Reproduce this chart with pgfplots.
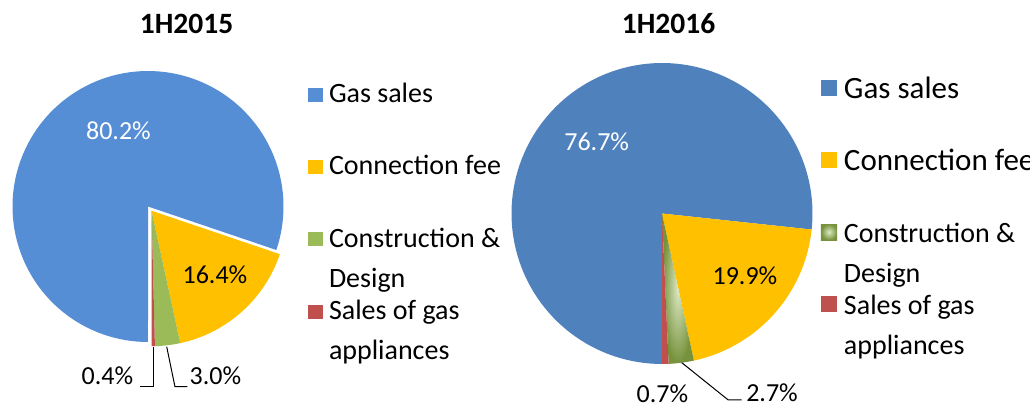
\documentclass[border=0pt]{standalone}
\usepackage{pgfplots}
\usepackage{pgfplotstable}
\pgfplotsset{compat=1.18}
\usepackage{fontspec}
\setmainfont{Carlito}

\definecolor{blueA}{HTML}{558ED5}
\definecolor{blueB}{HTML}{4F81BD}
\definecolor{yel}{HTML}{FFC000}
\definecolor{grnA}{HTML}{9BBB59}
\definecolor{grnDark}{HTML}{76923C}
\definecolor{grnLight}{HTML}{DDE9C4}
\definecolor{pieRed}{HTML}{C0504D}

% 1H2015 revenue split (%), dx/dy = explosion offset (radius units)
\pgfplotstableread{
name value dx dy
Gas 80.2 0 0
Conn 16.4 0.026 -0.031
Cons 3.0 0.026 -0.031
Sales 0.4 0.026 -0.031
}\pieA
% 1H2016 revenue split (%)
\pgfplotstableread{
name value dx dy
Gas 76.7 0 0
Conn 19.9 0 0
Cons 2.7 0 0
Sales 0.7 0 0
}\pieB

\pgfplotsset{
  pieA0/.style={fill=blueA},
  pieA1/.style={fill=yel},
  pieA2/.style={fill=grnA},
  pieA3/.style={fill=pieRed},
  pieB0/.style={fill=blueB},
  pieB1/.style={fill=yel},
  pieB2/.style={shade, shading=radial, inner color=grnLight, outer color=grnDark},
  pieB3/.style={fill=pieRed},
}

\newcommand\drawpie[2]{%
  \def\cum{0}%
  \pgfplotsforeachungrouped \i in {0,1,2,3}{%
    \pgfplotstablegetelem{\i}{value}\of#1\let\val\pgfplotsretval
    \pgfplotstablegetelem{\i}{dx}\of#1\let\ddx\pgfplotsretval
    \pgfplotstablegetelem{\i}{dy}\of#1\let\ddy\pgfplotsretval
    \pgfmathsetmacro\aS{-90-3.6*\cum}%
    \pgfmathsetmacro\aE{-90-3.6*(\cum+\val)}%
    \pgfmathsetmacro\cum{\cum+\val}%
    \edef\doslice{\noexpand\addplot[#2\i, forget plot, draw=none, domain=\aE:\aS, samples=120, variable=\noexpand\t]
      ({\ddx+cos(\noexpand\t)},{\ddy+sin(\noexpand\t)}) -- (axis cs:\ddx,\ddy) -- cycle;}%
    \doslice
  }}

\begin{document}
\begin{tikzpicture}
\path[use as bounding box] (0pt,0pt) rectangle (1030pt,406pt);
\clip (0pt,0pt) rectangle (1030pt,406pt);

\node[anchor=base, font=\fontsize{29.5}{30}\selectfont\bfseries] at (186.5pt,372.7pt) {1H2015};
\node[anchor=base, font=\fontsize{29.5}{30}\selectfont\bfseries] at (668.5pt,372.7pt) {1H2016};

% ---------------- 1H2015 ----------------
\begin{axis}[
  at={(148pt,199.5pt)}, anchor=center,
  x=135.5pt, y=135.5pt, xmin=-1, xmax=1, ymin=-1, ymax=1,
  hide axis, clip=false,
  legend image code/.code={\fill[#1, draw=none] (0pt,1pt) rectangle (15pt,15pt);},
  legend style={at={(1.0904,0.9642)}, anchor=north west, draw=none, fill=none,
    inner sep=0pt, outer sep=0pt, row sep=0pt, column sep=6pt,
    nodes={inner sep=0pt, outer sep=0pt, text height=22pt, text depth=50.3pt},
    cells={anchor=base west}},
]
\drawpie{\pieA}{pieA}
\addlegendimage{fill=blueA, draw=none}
\addlegendentry{\parbox[t]{230pt}{\fontsize{28}{40}\selectfont Gas sales}}
\addlegendimage{fill=yel, draw=none}
\addlegendentry{\parbox[t]{230pt}{\fontsize{28}{40}\selectfont Connection fee}}
\addlegendimage{fill=grnA, draw=none}
\addlegendentry{\parbox[t]{230pt}{\fontsize{28}{40}\selectfont Construction \&\newline Design}}
\addlegendimage{fill=pieRed, draw=none}
\addlegendentry{\parbox[t]{230pt}{\fontsize{28}{40}\selectfont Sales of gas\newline appliances}}

\node[anchor=base, text=white, font=\fontsize{26}{26}\selectfont] at (axis cs:-0.218,0.496) {80.2\%};
\node[anchor=base, font=\fontsize{26}{26}\selectfont] at (axis cs:0.494,-0.567) {16.4\%};
\node[anchor=base, font=\fontsize{26}{26}\selectfont] at (axis cs:-0.299,-1.316) {0.4\%};
\node[anchor=base, font=\fontsize{26}{26}\selectfont] at (axis cs:0.497,-1.316) {3.0\%};
\draw[black, line width=1pt] (axis cs:0.039,-1.037) -- (axis cs:0.039,-1.330) -- (axis cs:-0.059,-1.330);
\draw[black, line width=1pt] (axis cs:0.138,-1.035) -- (axis cs:0.199,-1.330) -- (axis cs:0.290,-1.330);
\end{axis}

% ---------------- 1H2016 ----------------
\begin{axis}[
  at={(662pt,192.5pt)}, anchor=center,
  x=150.5pt, y=150.5pt, xmin=-1, xmax=1, ymin=-1, ymax=1,
  hide axis, clip=false,
  legend image code/.code={\fill[#1, draw=none] (0pt,2.5pt) rectangle (16pt,18.5pt);},
  legend style={at={(1.0282,0.9551)}, anchor=north west, draw=none, fill=none,
    inner sep=0pt, outer sep=0pt, row sep=0pt, column sep=7pt,
    nodes={inner sep=0pt, outer sep=0pt, text height=22pt, text depth=50pt},
    cells={anchor=base west}},
]
\drawpie{\pieB}{pieB}
\addlegendimage{fill=blueB, draw=none}
\addlegendentry{\parbox[t]{230pt}{\fontsize{31}{40}\selectfont Gas sales}}
\addlegendimage{fill=yel, draw=none}
\addlegendentry{\parbox[t]{230pt}{\fontsize{31}{40}\selectfont Connection fee}}
\addlegendimage{shade, shading=radial, inner color=grnLight, outer color=grnDark, draw=none}
\addlegendentry{\parbox[t]{230pt}{\fontsize{28}{40}\selectfont Construction \&\newline Design}}
\addlegendimage{fill=pieRed, draw=none}
\addlegendentry{\parbox[t]{230pt}{\fontsize{28}{40}\selectfont Sales of gas\newline appliances}}

\node[anchor=base, text=white, font=\fontsize{26}{26}\selectfont] at (axis cs:-0.434,0.417) {76.7\%};
\node[anchor=base, font=\fontsize{26}{26}\selectfont] at (axis cs:0.551,-0.475) {19.9\%};
\node[anchor=base, font=\fontsize{26}{26}\selectfont] at (axis cs:0.003,-1.258) {0.7\%};
\node[anchor=base, font=\fontsize{26}{26}\selectfont] at (axis cs:0.731,-1.249) {2.7\%};
\draw[black, line width=1pt] (axis cs:0.131,-0.991) -- (axis cs:0.440,-1.239) -- (axis cs:0.529,-1.239);
\end{axis}
\end{tikzpicture}
\end{document}
